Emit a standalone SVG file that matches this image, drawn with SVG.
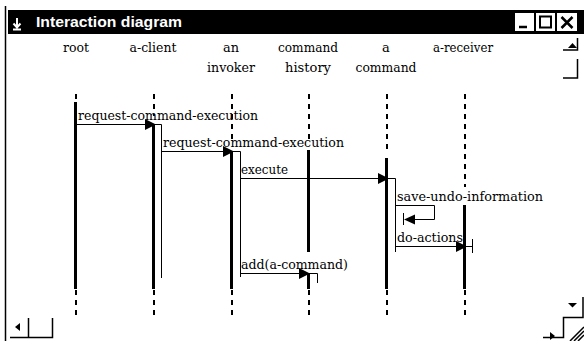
<svg xmlns="http://www.w3.org/2000/svg" width="584" height="341" viewBox="0 0 584 341">
<style>
.hdr{font-family:"DejaVu Serif","Liberation Serif",serif;font-size:13px;fill:#000;text-anchor:middle}
.msg{font-family:"DejaVu Serif","Liberation Serif",serif;font-size:13px;fill:#000}
.life{stroke:#000;stroke-width:3;fill:none}
.dash{stroke:#000;stroke-width:2;fill:none;stroke-dasharray:5 5}
.thin{stroke:#000;stroke-width:1;fill:none}
.head{fill:#000}
.chrome{stroke:#000;stroke-width:1.5;fill:none}
</style>
<rect x="0" y="0" width="584" height="341" fill="#fff"/>
<g id="window">
  <line x1="5.5" y1="6" x2="5.5" y2="341" stroke="#000" stroke-width="1.5"/>
  <rect x="8" y="10" width="576" height="24" fill="#000"/>
  <path d="M17 18 V27 M13.5 23.5 L17 27.5 L20.5 23.5 M13 29.5 H21" stroke="#fff" stroke-width="2" fill="none"/>
  <text x="36" y="27" font-family="Liberation Sans, Arial, sans-serif" font-size="15" font-weight="bold" fill="#fff" textLength="146" lengthAdjust="spacingAndGlyphs">Interaction diagram</text>
  <rect x="515" y="13" width="19" height="18" fill="#fff"/>
  <rect x="536" y="13" width="19" height="18" fill="#fff"/>
  <rect x="557" y="13" width="20" height="18" fill="#fff"/>
  <line x1="519" y1="27" x2="527" y2="27" stroke="#000" stroke-width="2.5"/>
  <rect x="540" y="16.5" width="11" height="11" fill="none" stroke="#000" stroke-width="2"/>
  <path d="M561.5 17 L572.5 28 M572.5 17 L561.5 28" stroke="#000" stroke-width="2.5"/>
  <polygon points="568,48 577,48 572.5,43" fill="#000"/>
  <path class="chrome" d="M563 50 H577.5 V38 M577.5 59 V78 H563"/>
  <polygon points="15,327 20,323 20,331" fill="#000"/>
  <path class="chrome" d="M10 337.5 H52.5 V318 M28.5 318 V337"/>
  <polygon points="550,332 555,336 550,340" fill="#000"/>
  <polygon points="568,303 577,303 572.5,307.5" fill="#000"/>
  <path class="chrome" d="M543 337.5 H563.5 V317.5 H583 V297"/>
  <path d="M570 341 L584 327 M574 341 L584 331 M578 341 L584 335" stroke="#000" stroke-width="1.5"/>
</g>
<g id="root">
  <text class="hdr" x="76" y="52" textLength="26" lengthAdjust="spacingAndGlyphs">root</text>
  <line class="dash" x1="76" y1="94" x2="76" y2="102"/>
  <line class="life" x1="75.5" y1="102" x2="75.5" y2="289"/>
  <line class="dash" x1="76" y1="290" x2="76" y2="318"/>
</g>
<g id="a-client">
  <text class="hdr" x="153" y="52" textLength="47" lengthAdjust="spacingAndGlyphs">a-client</text>
  <line class="dash" x1="154" y1="94" x2="154" y2="116"/>
  <line class="life" x1="153.5" y1="124" x2="153.5" y2="289"/>
  <line class="dash" x1="154" y1="290" x2="154" y2="318"/>
  <path class="thin" d="M153 124.5 H161.5 V278"/>
</g>
<g id="an-invoker">
  <text class="hdr" x="231" y="52" textLength="16" lengthAdjust="spacingAndGlyphs">an</text>
  <text class="hdr" x="231" y="72" textLength="48" lengthAdjust="spacingAndGlyphs">invoker</text>
  <line class="dash" x1="232" y1="94" x2="232" y2="143"/>
  <line class="life" x1="231.5" y1="151" x2="231.5" y2="289"/>
  <line class="dash" x1="232" y1="290" x2="232" y2="318"/>
  <path class="thin" d="M231 151.5 H240.5 V277"/>
</g>
<g id="command-history">
  <text class="hdr" x="308" y="52" textLength="60" lengthAdjust="spacingAndGlyphs">command</text>
  <text class="hdr" x="308" y="72" textLength="46" lengthAdjust="spacingAndGlyphs">history</text>
  <line class="dash" x1="309" y1="94" x2="309" y2="143"/>
  <line class="life" x1="308.5" y1="150" x2="308.5" y2="252"/>
  <line class="life" x1="308.5" y1="273" x2="308.5" y2="289"/>
  <line class="dash" x1="309" y1="290" x2="309" y2="318"/>
  <path class="thin" d="M308 273.5 H317.5 V283"/>
</g>
<g id="a-command">
  <text class="hdr" x="386" y="52">a</text>
  <text class="hdr" x="386" y="72" textLength="61" lengthAdjust="spacingAndGlyphs">command</text>
  <line class="dash" x1="387" y1="94" x2="387" y2="152"/>
  <line class="life" x1="386.5" y1="158" x2="386.5" y2="289"/>
  <line class="dash" x1="387" y1="290" x2="387" y2="318"/>
  <path class="thin" d="M386 178.5 H395.5 V252"/>
</g>
<g id="a-receiver">
  <text class="hdr" x="463" y="52" textLength="60" lengthAdjust="spacingAndGlyphs">a-receiver</text>
  <line class="dash" x1="465" y1="94" x2="465" y2="187"/>
  <line class="life" x1="464.5" y1="205" x2="464.5" y2="289"/>
  <line class="dash" x1="465" y1="290" x2="465" y2="318"/>
  <path class="thin" d="M464 246.5 H472.5 M472.5 239 V253"/>
</g>
<g id="connectors">
  <line class="thin" x1="77" y1="124.5" x2="150" y2="124.5"/>
  <polygon class="head" points="145,119 156,124.5 145,130"/>
  <text class="msg" x="78" y="120" textLength="180" lengthAdjust="spacingAndGlyphs">request-command-execution</text>
  <line class="thin" x1="161.5" y1="151.5" x2="228" y2="151.5"/>
  <polygon class="head" points="223,146 234,151.5 223,157"/>
  <text class="msg" x="163" y="147" textLength="181" lengthAdjust="spacingAndGlyphs">request-command-execution</text>
  <line class="thin" x1="240.5" y1="178.5" x2="383" y2="178.5"/>
  <polygon class="head" points="378,173 389,178.5 378,184"/>
  <text class="msg" x="241" y="174" textLength="47" lengthAdjust="spacingAndGlyphs">execute</text>
  <path class="thin" d="M395.5 205.5 H434.5 V219.5 H410"/>
  <polygon class="head" points="415,214.5 404,219.5 415,224.5"/>
  <line class="thin" x1="403.5" y1="213" x2="403.5" y2="225"/>
  <text class="msg" x="397" y="201" textLength="146" lengthAdjust="spacingAndGlyphs">save-undo-information</text>
  <line class="thin" x1="395.5" y1="246.5" x2="460" y2="246.5"/>
  <polygon class="head" points="456,241 467,246.5 456,252"/>
  <text class="msg" x="397" y="242" textLength="66" lengthAdjust="spacingAndGlyphs">do-actions</text>
  <line class="thin" x1="240.5" y1="273.5" x2="304" y2="273.5"/>
  <polygon class="head" points="299,268 310,273.5 299,279"/>
  <text class="msg" x="241" y="269" textLength="107" lengthAdjust="spacingAndGlyphs">add(a-command)</text>
</g>
</svg>
